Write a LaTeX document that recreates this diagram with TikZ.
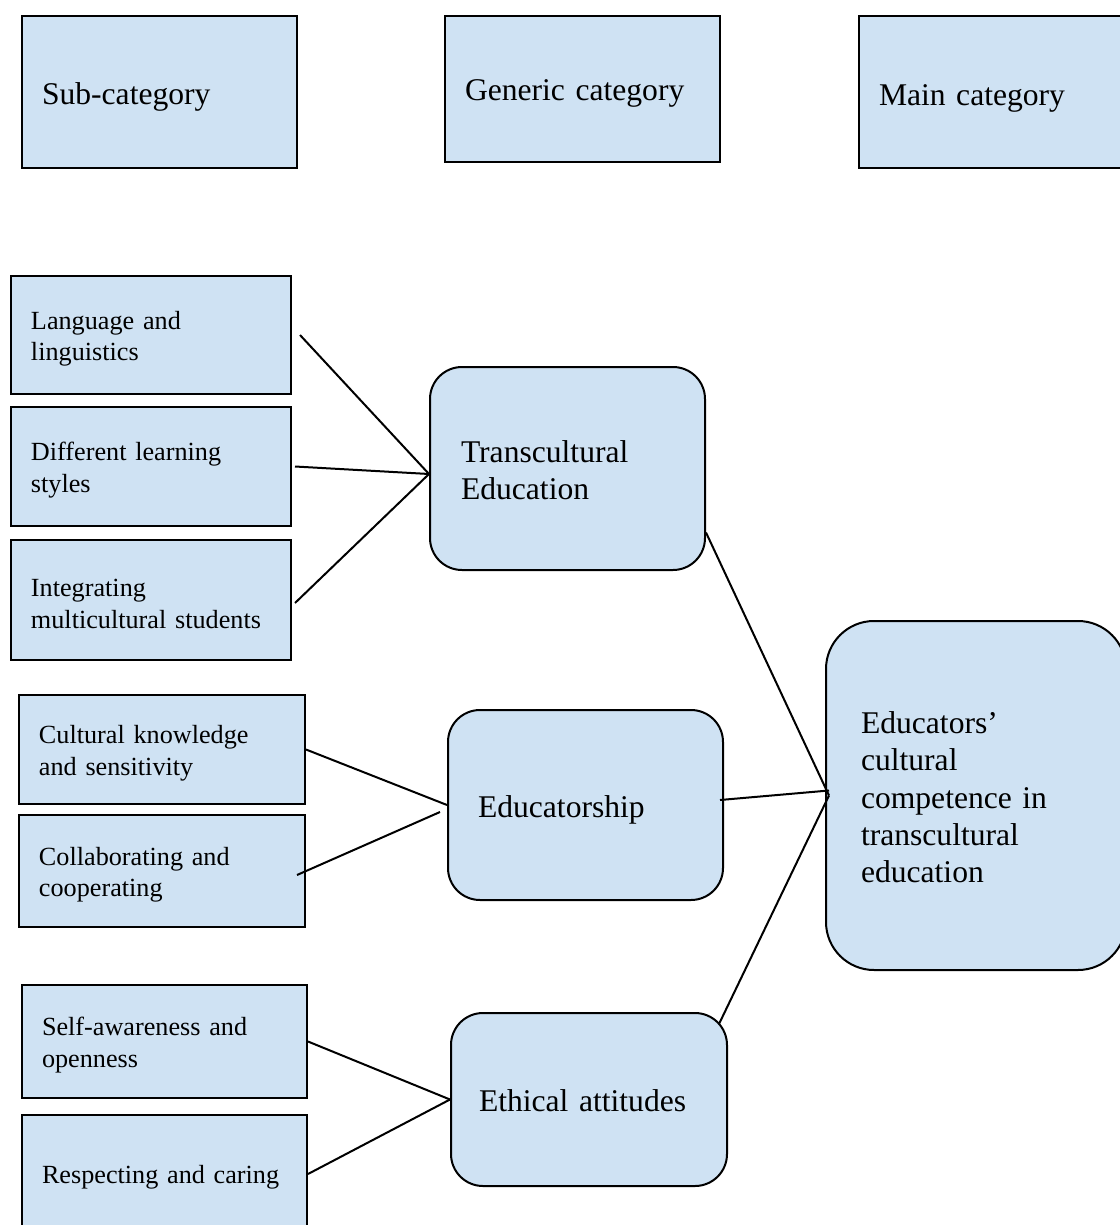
\documentclass[tikz,border=0pt]{standalone}
\usepackage{fontspec}
\setmainfont{Liberation Serif}
\usetikzlibrary{calc}
\definecolor{catblue}{HTML}{CFE2F3}

\tikzset{
	catbox/.style={draw, line width=1pt, fill=catblue, anchor=west, align=left},
	headbox/.style={catbox, text height=15.8pt, inner xsep=10pt, text width=117.5pt, font=\fontsize{15.8}{19}\selectfont},
	subbox/.style={catbox, text height=12.8pt, inner xsep=10pt, font=\fontsize{13.1}{15.75}\selectfont},
	genbox/.style={catbox, rounded corners=16pt, font=\fontsize{15.8}{18.7}\selectfont},
	link/.style={line width=1pt}
}

\begin{document}
\begin{tikzpicture}[x=0.5pt,y=-0.5pt]
	\useasboundingbox (0,0) rectangle (1119,1225);

	% header row
	\node[headbox, minimum height=76pt] (subcat) at (21,92) {Sub-category};
	\node[headbox, text height=14.8pt, minimum height=73pt] (gencat) at (444,89) {Generic category};
	\node[headbox, text height=16.8pt, minimum height=76pt] (maincat) at (858,92) {Main category};

	% sub-categories
	\node[subbox, text width=120pt, minimum height=59pt] (lang) at (10,335) {Language and\\linguistics};
	\node[subbox, text width=120pt, minimum height=59.5pt] (styles) at (10,466.5) {Different learning\\styles};
	\node[subbox, text width=120pt, minimum height=60pt] (integ) at (10,600) {Integrating\\multicultural students};

	\node[subbox, text width=123pt, minimum height=54.5pt] (knowl) at (18,749.5) {Cultural knowledge\\and sensitivity};
	\node[subbox, text width=123pt, minimum height=56pt] (collab) at (18,871) {Collaborating and\\cooperating};

	\node[subbox, text width=122.5pt, minimum height=56.5pt] (aware) at (21,1041.5) {Self-awareness and\\openness};
	\node[subbox, text width=122.5pt, minimum height=59pt] (respect) at (21,1174) {Respecting and caring};

	% generic categories
	\node[genbox, text height=12.8pt, inner xsep=15.5pt, text width=106.5pt, minimum height=101.5pt] (trans) at (429,468.5) {Transcultural\\Education};
	\node[genbox, text height=15.8pt, inner xsep=15pt, text width=107.5pt, minimum height=95pt] (edu) at (447,805) {Educatorship};
	\node[genbox, text height=11.8pt, inner xsep=14pt, text width=110pt, minimum height=86.5pt] (ethic) at (450,1099.5) {Ethical attitudes};

	% main category
	\node[genbox, text height=12.8pt, rounded corners=24pt, inner xsep=17.5pt, text width=115pt, minimum height=174.5pt] (mainc) at (825,795.5) {Educators’\\cultural\\competence in\\transcultural\\education};

	\coordinate (tj) at ([yshift=-2.75pt]trans.west);
	\coordinate (mj) at ([xshift=2pt]mainc.west);

	\draw[link] ([xshift=4pt]lang.east) -- (tj);
	\draw[link] ([xshift=1.5pt]styles.east) -- (tj);
	\draw[link] ([xshift=1.5pt,yshift=-1.5pt]integ.east) -- (tj);

	\draw[link] (knowl.east) -- (edu.west);
	\draw[link] ([xshift=-4.5pt,yshift=-2pt]collab.east) -- ([xshift=-3.5pt,yshift=-3.5pt]edu.west);

	\draw[link] (aware.east) -- (ethic.west);
	\draw[link] (respect.east) -- (ethic.west);

	\draw[link] ([yshift=-32pt]trans.east) -- (mj);
	\draw[link] ([xshift=-2pt,yshift=2.5pt]edu.east) -- ([yshift=2.5pt]mj);
	\draw[link] ([xshift=-4.5pt,yshift=-6pt]ethic.north east) -- (mj);
\end{tikzpicture}
\end{document}
